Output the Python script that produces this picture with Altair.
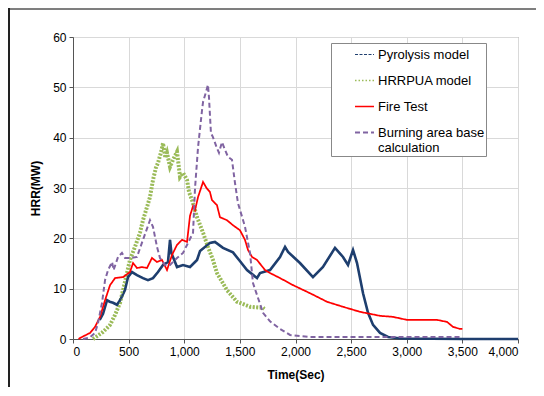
import altair as alt
import pandas as pd

# ---- data ----
pyro_t = [240, 270, 306, 330, 360, 395, 423, 467, 494, 530, 575, 629, 674, 719, 764, 809, 854, 872, 885, 899, 935, 989, 1052, 1115, 1142, 1231, 1276, 1348, 1438, 1500, 1564, 1654, 1681, 1771, 1861, 1906, 1933, 2040, 2157, 2247, 2355, 2427, 2472, 2517, 2553, 2607, 2652, 2697, 2760, 2832, 2950, 3500, 4000]
pyro_v = [3.8, 5.0, 7.7, 7.4, 7.2, 6.8, 7.7, 9.7, 12.3, 13.3, 12.7, 12.1, 11.7, 12.1, 13.3, 14.7, 15.3, 19.7, 17.0, 16.3, 14.3, 14.7, 14.3, 15.7, 17.5, 19.1, 19.3, 18.1, 17.2, 15.5, 13.7, 12.1, 13.1, 13.7, 16.3, 18.3, 17.3, 15.1, 12.3, 14.3, 18.1, 16.3, 14.7, 17.7, 15.1, 9.1, 5.2, 2.8, 1.2, 0.4, 0.1, 0.0, 0.0]

hrr_t = [180, 270, 333, 378, 423, 450, 485, 512, 557, 602, 629, 665, 692, 719, 745, 764, 790, 809, 830, 845, 872, 899, 935, 962, 989, 1025, 1043, 1070, 1115, 1169, 1213, 1258, 1294, 1384, 1474, 1591, 1708, 1720]
hrr_v = [0.0, 1.4, 2.8, 4.8, 7.2, 9.7, 13.1, 15.7, 18.3, 21.1, 23.6, 26.2, 28.2, 31.6, 34.0, 35.0, 37.0, 38.9, 36.0, 37.0, 34.2, 35.6, 37.2, 32.2, 33.0, 31.6, 29.2, 27.6, 24.2, 21.1, 18.3, 15.7, 13.1, 9.7, 7.4, 6.4, 6.2, 6.0]

fire_t = [50, 63, 153, 198, 243, 288, 333, 378, 450, 512, 540, 575, 620, 665, 710, 755, 800, 845, 890, 935, 980, 1025, 1052, 1079, 1097, 1124, 1169, 1200, 1231, 1249, 1294, 1321, 1384, 1438, 1501, 1546, 1573, 1609, 1654, 1726, 1771, 1861, 1978, 2130, 2283, 2427, 2580, 2670, 2760, 2876, 3002, 3119, 3272, 3362, 3416, 3479, 3500]
fire_v = [0.0, 0.2, 1.2, 2.4, 4.4, 7.7, 10.7, 12.1, 12.3, 13.3, 15.1, 14.1, 14.3, 14.1, 16.1, 15.3, 15.7, 13.7, 16.7, 18.7, 19.7, 19.3, 24.5, 26.4, 25.6, 28.2, 31.2, 30.0, 29.2, 27.6, 26.6, 24.2, 23.6, 22.6, 21.6, 19.7, 17.7, 16.3, 15.7, 13.7, 13.1, 12.1, 10.7, 9.1, 7.4, 6.4, 5.4, 5.0, 4.6, 4.4, 3.8, 3.8, 3.8, 3.4, 2.4, 2.0, 2.0]

burn_t = [90, 150, 198, 225, 261, 288, 315, 351, 365, 405, 440, 467, 512, 575, 629, 692, 719, 755, 782, 827, 872, 935, 989, 1034, 1079, 1097, 1124, 1160, 1169, 1196, 1213, 1222, 1240, 1258, 1294, 1312, 1339, 1366, 1393, 1429, 1456, 1483, 1546, 1591, 1618, 1708, 1771, 1861, 1951, 2130, 2670, 3500]
burn_v = [0.0, 0.3, 1.2, 3.2, 7.2, 11.7, 13.7, 15.3, 13.7, 16.3, 17.1, 16.1, 16.1, 16.3, 19.7, 23.6, 22.3, 18.3, 16.1, 14.7, 14.7, 16.1, 17.1, 19.1, 21.1, 30.0, 38.1, 45.5, 47.1, 49.1, 50.5, 48.1, 40.9, 40.1, 37.9, 37.0, 39.1, 37.6, 36.2, 35.6, 31.0, 27.0, 22.3, 17.1, 11.1, 5.2, 3.5, 2.0, 0.8, 0.4, 0.4, 0.4]

names = ["Pyrolysis model", "HRRPUA model", "Fire Test", "Burning area base calculation"]
colors = ["#1F3F6F", "#9BBB59", "#FF0000", "#8064A2"]
dashes = [[3, 1.5], [1.5, 2], [1, 0], [5, 3]]
widths = [1.2, 2, 3, 2.5]

frames = []
for n, ts, vs in zip(names, [pyro_t, hrr_t, fire_t, burn_t], [pyro_v, hrr_v, fire_v, burn_v]):
    frames.append(pd.DataFrame({"t": ts, "v": vs, "series": n}))
df = pd.concat(frames, ignore_index=True)

FONT = "Liberation Sans"

xscale = alt.Scale(domain=[0, 4000], nice=False)
yscale = alt.Scale(domain=[0, 60], nice=False)

xs = alt.X("t:Q", scale=xscale,
           axis=alt.Axis(title="Time(Sec)", values=list(range(0, 4001, 500)), format=",d",
                         titlePadding=12))
ys = alt.Y("v:Q", scale=yscale,
           axis=alt.Axis(title="HRR(MW)", values=list(range(0, 61, 5)),
                         labelExpr="datum.value % 10 == 0 ? datum.label : ''",
                         tickColor={"condition": {"test": "datum.value % 10 == 0", "value": "#555555"},
                                    "value": "transparent"},
                         titlePadding=10))

leg = alt.Legend(title=None, orient="none", legendX=258, legendY=6, symbolType="stroke",
                 symbolSize=360, padding=1, symbolOffset=22, labelOffset=3,
                 strokeColor="#888888", fillColor="white", rowPadding=8,
                 labelExpr="datum.label == 'Burning area base calculation' ? ['Burning area base\u00a0\u00a0\u00a0', 'calculation'] : datum.label",
                 labelFontSize=13, labelFont=FONT, labelColor="#000000", labelLimit=250)

enc_color = alt.Color("series:N", scale=alt.Scale(domain=names, range=colors), legend=leg)
enc_dash = alt.StrokeDash("series:N", scale=alt.Scale(domain=names, range=dashes), legend=leg)
enc_width = alt.StrokeWidth("series:N", scale=alt.Scale(domain=names, range=widths), legend=leg)

base = alt.Chart(df)

# thick under-layers imitating the noisy model traces
green_band = base.transform_filter(alt.datum.series == "HRRPUA model").mark_line(
    color="#9BBB59", strokeWidth=4, strokeDash=[2, 1.5]).encode(x=xs, y=ys)
blue_band = base.transform_filter(alt.datum.series == "Pyrolysis model").mark_line(
    color="#1F3F6F", strokeWidth=2.6).encode(x=xs, y=ys)

layers = [green_band, blue_band]
for n in ["HRRPUA model", "Pyrolysis model", "Fire Test", "Burning area base calculation"]:
    layers.append(base.transform_filter(alt.datum.series == n).mark_line().encode(
        x=xs, y=ys, color=enc_color, strokeDash=enc_dash, strokeWidth=enc_width,
        order=alt.Order("t:Q")))

# outer frame (decoration): top edge placed through the fixed scales, left edge in pixels
frame_top = alt.Chart(df).mark_rule(color="#7F7F7F", strokeWidth=1.2).encode(
    x=alt.X(datum=-575, scale=xscale), x2=alt.X2(datum=4300),
    y=alt.Y(datum=65.6, scale=yscale))
frame_left = alt.Chart(df).mark_rule(color="#222222", strokeWidth=1).encode(
    x=alt.value(-64), y=alt.value(-29), y2=alt.value(400))

chart = alt.layer(*layers, frame_top, frame_left).properties(
    width=445, height=302,
    padding={"left": 65, "top": 29, "right": 18, "bottom": 48},
    autosize=alt.AutoSizeParams(type="none"),
    background="white",
).configure_view(stroke="#888888", strokeWidth=1).configure_axis(
    grid=True, gridColor="#D9D9D9", gridWidth=1,
    domainColor="#555555", tickColor="#555555", tickSize=4,
    labelFont=FONT, labelFontSize=12, labelColor="#000000",
    titleFont=FONT, titleFontSize=12, titleFontWeight="bold", titleColor="#000000",
    labelPadding=3,
)

chart.save("out.html", embed_options={"renderer": "svg", "actions": False})
